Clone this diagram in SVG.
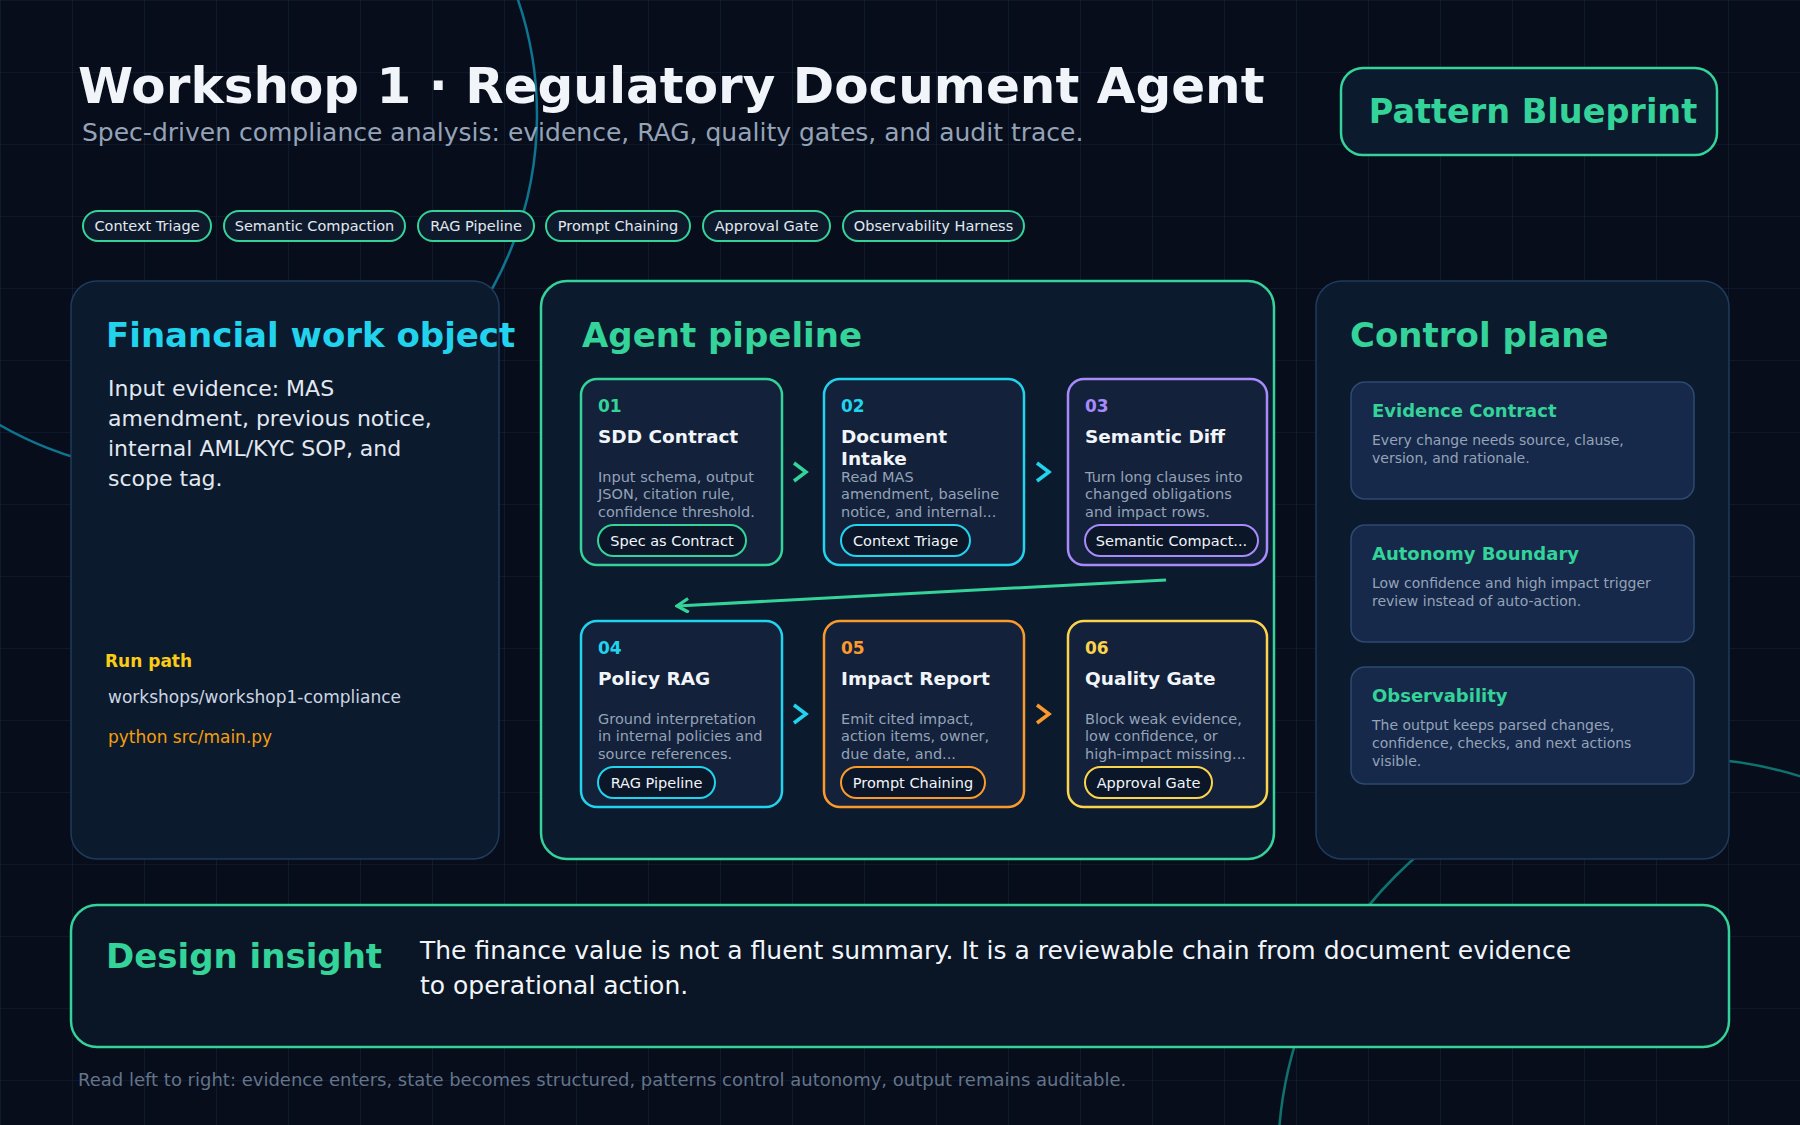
<svg xmlns="http://www.w3.org/2000/svg" width="1800" height="1125" viewBox="0 0 1800 1125">
<defs>
<pattern id="grid" width="72" height="72" patternUnits="userSpaceOnUse"><path d="M72 0H0V72" fill="none" stroke="#13243a" stroke-width="1.2"/></pattern>
<marker id="ah" viewBox="0 0 14 14" refX="12" refY="7" markerWidth="16" markerHeight="16" markerUnits="userSpaceOnUse" orient="auto"><path d="M2 1L12 7L2 13" fill="none" stroke="#34d399" stroke-width="2.8"/></marker>
</defs>
<style>
text{font-family:"DejaVu Sans","Noto Sans",sans-serif}
.panel{fill:#0c1a2e;stroke:#1f3b5c;stroke-width:1.5}
.card{fill:#13213a;stroke-width:2.5}
.num{font-size:17px;font-weight:bold}
.ct{font-size:18.5px;font-weight:bold;fill:#f1f5f9}
.cd{font-size:14.5px;fill:#94a3b8}
.chip{fill:#0b1628;stroke-width:2}
.chipt{font-size:14.5px;fill:#f1f5f9}
.tag{fill:#0e1a2c;stroke:#34d399;stroke-width:2}
.tagt{font-size:14.5px;fill:#e2e8f0}
.ptitle{font-size:34px;font-weight:bold}
.cc{fill:#17294a;stroke:#2d4a70;stroke-width:1.5}
.cct{font-size:18px;font-weight:bold;fill:#34d399}
.ccd{font-size:14px;fill:#94a3b8}
.chev{fill:none;stroke-width:3.5}
</style>
<rect width="1800" height="1125" fill="#070d1a"/>
<rect width="1800" height="1125" fill="url(#grid)"/>
<circle cx="179" cy="115" r="358" fill="none" stroke="#0e7490" stroke-width="2.5"/>
<circle cx="1680" cy="1160" r="402" fill="none" stroke="#14b8a6" stroke-opacity="0.6" stroke-width="2.5"/>

<g id="header">
<text x="78" y="103" font-size="50" font-weight="bold" fill="#f1f5f9">Workshop 1 · Regulatory Document Agent</text>
<text x="82" y="141" font-size="25" fill="#94a3b8">Spec-driven compliance analysis: evidence, RAG, quality gates, and audit trace.</text>
</g>
<g id="badge">
<rect x="1341" y="68" width="376" height="87" rx="22" fill="#0c1a2e" stroke="#34d399" stroke-width="2.5"/>
<text x="1533" y="123" font-size="33.5" font-weight="bold" fill="#34d399" text-anchor="middle">Pattern Blueprint</text>
</g>
<g id="tags">
<rect class="tag" x="83" y="211" width="128" height="30" rx="15"/><text class="tagt" x="147" y="231" text-anchor="middle">Context Triage</text>
<rect class="tag" x="224" y="211" width="181" height="30" rx="15"/><text class="tagt" x="314.5" y="231" text-anchor="middle">Semantic Compaction</text>
<rect class="tag" x="418" y="211" width="116" height="30" rx="15"/><text class="tagt" x="476" y="231" text-anchor="middle">RAG Pipeline</text>
<rect class="tag" x="546" y="211" width="144" height="30" rx="15"/><text class="tagt" x="618" y="231" text-anchor="middle">Prompt Chaining</text>
<rect class="tag" x="703" y="211" width="127" height="30" rx="15"/><text class="tagt" x="766.5" y="231" text-anchor="middle">Approval Gate</text>
<rect class="tag" x="843" y="211" width="181" height="30" rx="15"/><text class="tagt" x="933.5" y="231" text-anchor="middle">Observability Harness</text>
</g>

<g id="work-object">
<rect class="panel" x="71" y="281" width="428" height="578" rx="26"/>
<text class="ptitle" x="106" y="347" fill="#22d3ee">Financial work object</text>
<text font-size="22" fill="#e2e8f0"><tspan x="108" y="396">Input evidence: MAS</tspan><tspan x="108" y="426">amendment, previous notice,</tspan><tspan x="108" y="456">internal AML/KYC SOP, and</tspan><tspan x="108" y="486">scope tag.</tspan></text>
<text x="105" y="667" font-size="17" font-weight="bold" fill="#facc15">Run path</text>
<text x="108" y="703" font-size="17" fill="#cbd5e1">workshops/workshop1-compliance</text>
<text x="108" y="743" font-size="17" fill="#f59e0b">python src/main.py</text>
</g>

<g id="pipeline">
<rect x="541" y="281" width="733" height="578" rx="26" fill="#0c1a2e" stroke="#34d399" stroke-width="2.5"/>
<text class="ptitle" x="582" y="347" fill="#34d399">Agent pipeline</text>
</g>

<g id="card01">
<rect class="card" x="581" y="379" width="201" height="186" rx="16" stroke="#34d399"/>
<text class="num" x="598" y="412" fill="#34d399">01</text>
<text class="ct" x="598" y="443">SDD Contract</text>
<text class="cd"><tspan x="598" y="482">Input schema, output</tspan><tspan x="598" y="499">JSON, citation rule,</tspan><tspan x="598" y="517">confidence threshold.</tspan></text>
<rect class="chip" x="598" y="525" width="148" height="31" rx="15.5" stroke="#34d399"/><text class="chipt" x="672" y="545.5" text-anchor="middle">Spec as Contract</text>
</g>
<g id="card02">
<rect class="card" x="824" y="379" width="200" height="186" rx="16" stroke="#22d3ee"/>
<text class="num" x="841" y="412" fill="#22d3ee">02</text>
<text class="ct"><tspan x="841" y="443">Document</tspan><tspan x="841" y="465">Intake</tspan></text>
<text class="cd"><tspan x="841" y="482">Read MAS</tspan><tspan x="841" y="499">amendment, baseline</tspan><tspan x="841" y="517">notice, and internal...</tspan></text>
<rect class="chip" x="841" y="525" width="129" height="31" rx="15.5" stroke="#22d3ee"/><text class="chipt" x="905.5" y="545.5" text-anchor="middle">Context Triage</text>
</g>
<g id="card03">
<rect class="card" x="1068" y="379" width="199" height="186" rx="16" stroke="#a78bfa"/>
<text class="num" x="1085" y="412" fill="#a78bfa">03</text>
<text class="ct" x="1085" y="443">Semantic Diff</text>
<text class="cd"><tspan x="1085" y="482">Turn long clauses into</tspan><tspan x="1085" y="499">changed obligations</tspan><tspan x="1085" y="517">and impact rows.</tspan></text>
<rect class="chip" x="1085" y="525" width="173" height="31" rx="15.5" stroke="#a78bfa"/><text class="chipt" x="1171.5" y="545.5" text-anchor="middle">Semantic Compact...</text>
</g>
<g id="card04">
<rect class="card" x="581" y="621" width="201" height="186" rx="16" stroke="#22d3ee"/>
<text class="num" x="598" y="654" fill="#22d3ee">04</text>
<text class="ct" x="598" y="685">Policy RAG</text>
<text class="cd"><tspan x="598" y="724">Ground interpretation</tspan><tspan x="598" y="741">in internal policies and</tspan><tspan x="598" y="759">source references.</tspan></text>
<rect class="chip" x="598" y="767" width="117" height="31" rx="15.5" stroke="#22d3ee"/><text class="chipt" x="656.5" y="787.5" text-anchor="middle">RAG Pipeline</text>
</g>
<g id="card05">
<rect class="card" x="824" y="621" width="200" height="186" rx="16" stroke="#fb9a2c"/>
<text class="num" x="841" y="654" fill="#fb9a2c">05</text>
<text class="ct" x="841" y="685">Impact Report</text>
<text class="cd"><tspan x="841" y="724">Emit cited impact,</tspan><tspan x="841" y="741">action items, owner,</tspan><tspan x="841" y="759">due date, and...</tspan></text>
<rect class="chip" x="841" y="767" width="144" height="31" rx="15.5" stroke="#fb9a2c"/><text class="chipt" x="913" y="787.5" text-anchor="middle">Prompt Chaining</text>
</g>
<g id="card06">
<rect class="card" x="1068" y="621" width="199" height="186" rx="16" stroke="#fcd34d"/>
<text class="num" x="1085" y="654" fill="#fcd34d">06</text>
<text class="ct" x="1085" y="685">Quality Gate</text>
<text class="cd"><tspan x="1085" y="724">Block weak evidence,</tspan><tspan x="1085" y="741">low confidence, or</tspan><tspan x="1085" y="759">high-impact missing...</tspan></text>
<rect class="chip" x="1085" y="767" width="127" height="31" rx="15.5" stroke="#fcd34d"/><text class="chipt" x="1148.5" y="787.5" text-anchor="middle">Approval Gate</text>
</g>

<g id="connectors">
<path class="chev" d="M794 463L806 472L794 481" stroke="#34d399"/>
<path class="chev" d="M1037 463L1049 472L1037 481" stroke="#22d3ee"/>
<path class="chev" d="M794 705L806 714L794 723" stroke="#22d3ee"/>
<path class="chev" d="M1037 705L1049 714L1037 723" stroke="#fb9a2c"/>
<line x1="1166" y1="580" x2="677" y2="606" stroke="#34d399" stroke-width="3" marker-end="url(#ah)"/>
</g>

<g id="control-plane">
<rect class="panel" x="1316" y="281" width="413" height="578" rx="26"/>
<text class="ptitle" x="1350" y="347" fill="#34d399">Control plane</text>
</g>
<g id="evidence-contract">
<rect class="cc" x="1351" y="382" width="343" height="117" rx="14"/>
<text class="cct" x="1372" y="417">Evidence Contract</text>
<text class="ccd"><tspan x="1372" y="445">Every change needs source, clause,</tspan><tspan x="1372" y="463">version, and rationale.</tspan></text>
</g>
<g id="autonomy-boundary">
<rect class="cc" x="1351" y="525" width="343" height="117" rx="14"/>
<text class="cct" x="1372" y="560">Autonomy Boundary</text>
<text class="ccd"><tspan x="1372" y="588">Low confidence and high impact trigger</tspan><tspan x="1372" y="606">review instead of auto-action.</tspan></text>
</g>
<g id="observability">
<rect class="cc" x="1351" y="667" width="343" height="117" rx="14"/>
<text class="cct" x="1372" y="702">Observability</text>
<text class="ccd"><tspan x="1372" y="730">The output keeps parsed changes,</tspan><tspan x="1372" y="748">confidence, checks, and next actions</tspan><tspan x="1372" y="766">visible.</tspan></text>
</g>

<g id="design-insight">
<rect x="71" y="905" width="1658" height="142" rx="26" fill="#0a1626" stroke="#34d399" stroke-width="2.5"/>
<text class="ptitle" x="106" y="968" fill="#34d399">Design insight</text>
<text font-size="25" fill="#f1f5f9"><tspan x="420" y="959">The finance value is not a fluent summary. It is a reviewable chain from document evidence</tspan><tspan x="420" y="994">to operational action.</tspan></text>
</g>
<text x="78" y="1086" font-size="18" fill="#64748b">Read left to right: evidence enters, state becomes structured, patterns control autonomy, output remains auditable.</text>
</svg>
